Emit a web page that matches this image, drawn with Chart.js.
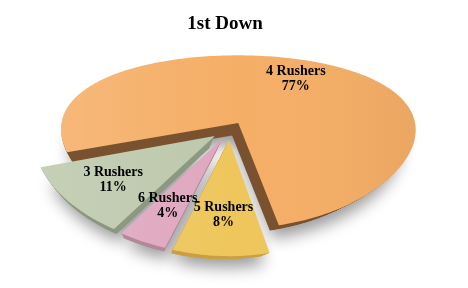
<!DOCTYPE html>
<html>
<head>
<meta charset="utf-8">
<script src="https://cdn.jsdelivr.net/npm/chart.js@4.4.0/dist/chart.umd.min.js"></script>
<style>
  html, body { margin: 0; padding: 0; background: #fff; }
  #wrap { width: 468px; height: 288px; }
</style>
</head>
<body>
<div id="wrap"><canvas id="chart-pie"></canvas></div>
<script>
var labels = ["3 Rushers", "4 Rushers", "5 Rushers", "6 Rushers"];
var shares = [11, 77, 8, 4];

var topColors = ["#bcc8ab", "#f5ae66", "#eec65c", "#dfa7be"];
var sideColors = ["#8c9880", "#7a5230", "#c9a043", "#b38a9a"];
var explode = [0.11, 0.095, 0.115, 0.11]; // fraction of radius

// tilted view of the disc: centre, half axes, perspective (x / y), and where the depth recedes to
var view = { cx: 230, cy: 130, a: 178, b: 85.4, px: 0.08, py: 0.22, vx: 150, vy: 300, depth: 0.07, steps: 12 };

function proj(u, v, s) {
  var x = view.cx + view.a * u / (1 - view.px * v);
  var y = view.cy + view.b * v / (1 - view.py * v);
  var k = 1 - view.depth * s;
  return [view.vx + (x - view.vx) * k, view.vy + (y - view.vy) * k];
}

// trace a slice of the library's arc element on the tilted disc
function slicePath(ctx, arc, i, s) {
  var a0 = arc.startAngle, a1 = arc.endAngle, m = (a0 + a1) / 2;
  var ox = Math.cos(m) * explode[i], oy = Math.sin(m) * explode[i];
  var n = Math.max(2, Math.ceil((a1 - a0) / 0.02));
  var pt = proj(ox, oy, s);
  ctx.beginPath();
  ctx.moveTo(pt[0], pt[1]);
  for (var j = 0; j <= n; j++) {
    var t = a0 + (a1 - a0) * j / n;
    pt = proj(ox + Math.cos(t), oy + Math.sin(t), s);
    ctx.lineTo(pt[0], pt[1]);
  }
  ctx.closePath();
}

var pie3d = {
  id: "pie3d",
  beforeDatasetsDraw: function (chart) {
    var ctx = chart.ctx;
    var arcs = chart.getDatasetMeta(0).data;
    var order = [1, 0, 3, 2];
    for (var t = view.steps; t >= 1; t--) {
      order.forEach(function (i) {
        ctx.save();
        if (t === view.steps) {
          ctx.shadowColor = "rgba(0,0,0,0.4)";
          ctx.shadowBlur = 16;
          ctx.shadowOffsetX = 3;
          ctx.shadowOffsetY = 8;
        }
        slicePath(ctx, arcs[i], i, t / view.steps);
        ctx.fillStyle = sideColors[i];
        ctx.fill();
        ctx.restore();
      });
    }
    // soft light from the left on the top faces
    var light = ctx.createLinearGradient(40, 0, 430, 0);
    light.addColorStop(0, "rgba(255,255,255,0.14)");
    light.addColorStop(0.5, "rgba(255,255,255,0)");
    light.addColorStop(1, "rgba(0,0,0,0.05)");
    order.forEach(function (i) {
      slicePath(ctx, arcs[i], i, 0);
      ctx.fillStyle = topColors[i];
      ctx.fill();
      ctx.fillStyle = light;
      ctx.fill();
    });
    return false;
  },
  afterDraw: function (chart) {
    var ctx = chart.ctx;
    var arcs = chart.getDatasetMeta(0).data;
    var total = shares.reduce(function (a, b) { return a + b; }, 0);
    ctx.save();
    ctx.font = "bold 14px 'Liberation Serif'";
    ctx.fillStyle = "#000";
    ctx.textAlign = "center";
    ctx.textBaseline = "middle";
    arcs.forEach(function (arc, i) {
      var m = (arc.startAngle + arc.endAngle) / 2;
      var k = 0.7 + explode[i];
      var pt = proj(Math.cos(m) * k, Math.sin(m) * k, 0);
      ctx.fillText(labels[i], pt[0], pt[1] - 7);
      ctx.fillText(Math.round(shares[i] / total * 100) + "%", pt[0], pt[1] + 8);
    });
    ctx.restore();
  }
};

var ctx = document.getElementById("chart-pie").getContext("2d");

new Chart(ctx, {
  type: "pie",
  data: {
    labels: labels,
    datasets: [
      {
        data: shares,
        backgroundColor: topColors,
        borderWidth: 0,
      },
    ],
  },
  options: {
    responsive: true,
    maintainAspectRatio: false,
    animation: false,
    rotation: 211.2,
    layout: {
      padding: { right: 18 },
    },
    plugins: {
      legend: {
        display: false,
      },
      tooltip: {
        enabled: false,
      },
      title: {
        display: true,
        text: "1st Down",
        color: "#000",
        padding: { top: 13, bottom: 6 },
        font: {
          size: 19,
          weight: "bold",
          family: "Liberation Serif",
        },
      },
    },
  },
  plugins: [pie3d],
});
</script>
</body>
</html>
